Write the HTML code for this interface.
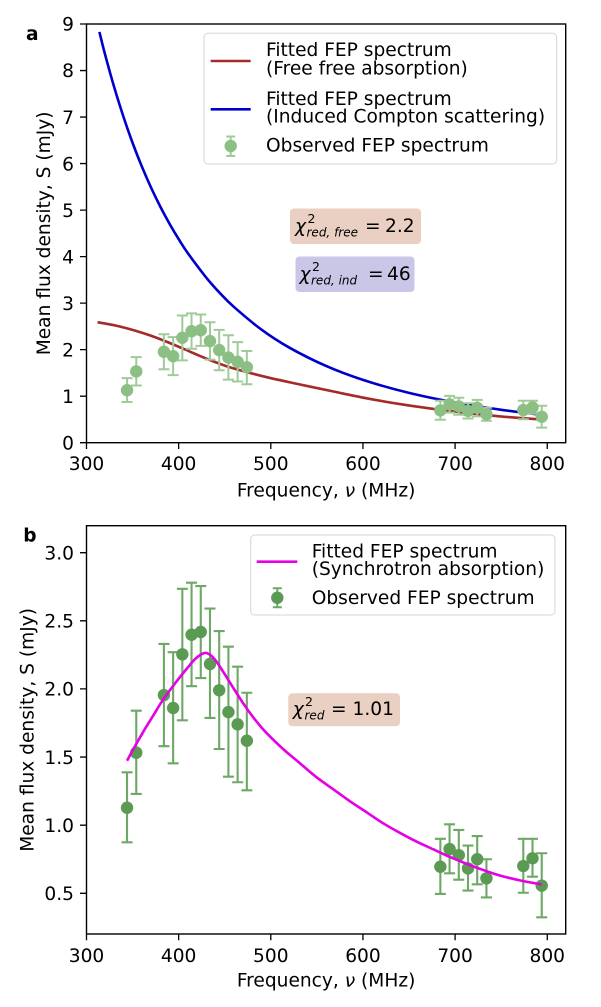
<!DOCTYPE html>
<html><head><meta charset="utf-8"><style>
html,body{margin:0;padding:0;background:#fff;}
svg{display:block;font-family:"DejaVu Sans","Liberation Sans",sans-serif;}
.t{font-size:18.6px;fill:#000;}
.it{font-style:italic;}
</style></head><body>
<svg id="fig" width="601" height="1007" viewBox="0 0 601 1007" xmlns="http://www.w3.org/2000/svg">
<rect width="601" height="1007" fill="#fff"/>

<!-- ================= PANEL A ================= -->
<text class="t" x="26" y="40" font-weight="bold">a</text>

<!-- curves -->
<polyline class="sm" fill="none" stroke="#0000cd" stroke-width="2.6" stroke-linejoin="round" points="99.40,31.93 104.93,53.9 114.15,87.05 123.37,116.5 132.58,142.88 141.79,166.4 151.0,187.49 160.22,206.5 169.44,223.59 178.65,239.1 187.87,253.22 206.30,277.65 220.12,293.3 233.94,306.95 261.59,329.7 289.23,347.57 326.09,365.99 362.95,379.9 409.03,392.92 455.1,402.53 501.18,409.81 541.72,414.81"/>
<polyline class="sm" fill="none" stroke="#a52a2a" stroke-width="2.6" stroke-linejoin="round" points="97.56,322.21 116,325.6 133.32,330.12 150,335.4 166.67,341.75 183,348.6 199.84,355.9 216,362.4 233.02,368.27 266.75,377.2 300.1,384.5 333.46,391.53 366.64,398.3 399.81,404.09 433.54,408.9 466.9,412.93 500.25,416.42 541.72,419.44"/>

<!-- error bars top -->
<g stroke="#a0cb98" stroke-width="2" fill="none">
<path d="M127.05,402.0V378.1M136.26,385.5V357.1M163.91,369.2V334.3M173.12,375.1V337.1M182.34,360.4V315.5M191.55,348.7V313.4M200.77,345.9V314.5M209.98,359.6V322.2M219.2,370.2V329.9M228.41,379.6V335.2M237.63,381.5V342.1M246.84,384.3V351.0M440.36,419.7V400.8M449.57,412.6V395.9M458.79,414.8V397.8M468.0,418.5V403.2M477.22,416.4V399.9M486.43,420.8V407.8M523.29,419.3V400.8M532.51,413.8V400.8M541.72,427.6V405.8"/>
<path d="M121.55,402.0h11M121.55,378.1h11M130.76,385.5h11M130.76,357.1h11M158.41,369.2h11M158.41,334.3h11M167.62,375.1h11M167.62,337.1h11M176.84,360.4h11M176.84,315.5h11M186.05,348.7h11M186.05,313.4h11M195.27,345.9h11M195.27,314.5h11M204.48,359.6h11M204.48,322.2h11M213.7,370.2h11M213.7,329.9h11M222.91,379.6h11M222.91,335.2h11M232.13,381.5h11M232.13,342.1h11M241.34,384.3h11M241.34,351.0h11M434.86,419.7h11M434.86,400.8h11M444.07,412.6h11M444.07,395.9h11M453.29,414.8h11M453.29,397.8h11M462.5,418.5h11M462.5,403.2h11M471.72,416.4h11M471.72,399.9h11M480.93,420.8h11M480.93,407.8h11M517.79,419.3h11M517.79,400.8h11M527.01,413.8h11M527.01,400.8h11M536.22,427.6h11M536.22,405.8h11"/>
</g>
<g fill="#8bbf83">
<circle cx="127.05" cy="390.2" r="6.2"/><circle cx="136.26" cy="371.4" r="6.2"/><circle cx="163.91" cy="351.8" r="6.2"/><circle cx="173.12" cy="356.2" r="6.2"/><circle cx="182.34" cy="337.8" r="6.2"/><circle cx="191.55" cy="331.2" r="6.2"/><circle cx="200.77" cy="330.2" r="6.2"/><circle cx="209.98" cy="341.1" r="6.2"/><circle cx="219.2" cy="350.1" r="6.2"/><circle cx="228.41" cy="357.6" r="6.2"/><circle cx="237.63" cy="361.8" r="6.2"/><circle cx="246.84" cy="367.3" r="6.2"/>
<circle cx="440.36" cy="410.4" r="6.2"/><circle cx="449.57" cy="404.3" r="6.2"/><circle cx="458.79" cy="406.4" r="6.2"/><circle cx="468.0" cy="410.9" r="6.2"/><circle cx="477.22" cy="407.8" r="6.2"/><circle cx="486.43" cy="414.3" r="6.2"/><circle cx="523.29" cy="410.1" r="6.2"/><circle cx="532.51" cy="407.5" r="6.2"/><circle cx="541.72" cy="416.8" r="6.2"/>
</g>

<!-- axes box top -->
<rect x="86.5" y="24" width="479.2" height="418.7" fill="none" stroke="#000" stroke-width="1.4"/>
<g stroke="#000" stroke-width="1.3">
<path d="M86.5,442.7v6.3M178.65,442.7v6.3M270.8,442.7v6.3M362.95,442.7v6.3M455.1,442.7v6.3M547.25,442.7v6.3"/>
<path d="M80,442.7h6.5M80,396.18h6.5M80,349.66h6.5M80,303.14h6.5M80,256.62h6.5M80,210.1h6.5M80,163.58h6.5M80,117.06h6.5M80,70.54h6.5M80,24.02h6.5"/>
</g>
<g text-anchor="middle">
<text class="t" x="86.5" y="470">300</text><text class="t" x="178.65" y="470">400</text><text class="t" x="270.8" y="470">500</text><text class="t" x="362.95" y="470">600</text><text class="t" x="455.1" y="470">700</text><text class="t" x="547.25" y="470">800</text>
</g>
<g text-anchor="end">
<text class="t" x="74" y="449.4">0</text><text class="t" x="74" y="402.9">1</text><text class="t" x="74" y="356.4">2</text><text class="t" x="74" y="309.8">3</text><text class="t" x="74" y="263.3">4</text><text class="t" x="74" y="216.8">5</text><text class="t" x="74" y="170.3">6</text><text class="t" x="74" y="123.8">7</text><text class="t" x="74" y="77.2">8</text><text class="t" x="74" y="30.7">9</text>
</g>
<text class="t" x="326.1" y="496.5" text-anchor="middle">Frequency, <tspan class="it">ν</tspan> (MHz)</text>
<text class="t" text-anchor="middle" transform="translate(50,233.4) rotate(-90)">Mean flux density, S (mJy)</text>

<!-- legend top -->
<rect x="204" y="33.3" width="352.7" height="130.7" rx="4" fill="#fff" fill-opacity="0.85" stroke="#d6d6d6" stroke-width="1"/>
<line x1="210.7" y1="61" x2="250.7" y2="61" stroke="#a52a2a" stroke-width="2.6"/>
<line x1="210.7" y1="109.3" x2="250.7" y2="109.3" stroke="#0000cd" stroke-width="2.6"/>
<path d="M230.7,136.5V156M226.2,136.5h9M226.2,156h9" stroke="#a0cb98" stroke-width="2" fill="none"/>
<circle cx="230.7" cy="146" r="6.2" fill="#8bbf83"/>
<text class="t" x="266" y="56">Fitted FEP spectrum</text>
<text class="t" x="266" y="74.3">(Free free absorption)</text>
<text class="t" x="266" y="105">Fitted FEP spectrum</text>
<text class="t" x="266" y="122.5">(Induced Compton scattering)</text>
<text class="t" x="266" y="151.5">Observed FEP spectrum</text>

<!-- chi boxes top -->
<rect x="290" y="208.5" width="131" height="35.5" rx="4" fill="#e9d0c2"/>
<text class="t it" x="295" y="231.8">χ</text>
<text x="307.5" y="222.8" font-size="12.5px">2</text>
<text class="it" x="306.5" y="236.3" font-size="12px">red, free</text>
<text class="t" x="365" y="231.8">=</text>
<text class="t" x="385" y="231.8">2.2</text>

<rect x="295.5" y="256.5" width="119" height="35.5" rx="4" fill="#cac6e8"/>
<text class="t it" x="299.5" y="279.8">χ</text>
<text x="312" y="270.8" font-size="12.5px">2</text>
<text class="it" x="311" y="284.3" font-size="12px">red, ind</text>
<text class="t" x="368" y="279.8">=</text>
<text class="t" x="387" y="279.8">46</text>

<!-- ================= PANEL B ================= -->
<text class="t" x="23.3" y="541.7" font-weight="bold">b</text>

<g stroke="#6ea866" stroke-width="2.1" fill="none">
<path d="M127.05,842.34V772.31M136.26,793.97V710.73M163.91,746.15V643.96M173.12,763.32V652.14M182.34,720.27V588.79M191.55,686.2V582.65M200.77,678.03V586.06M209.98,717.95V608.54M219.2,749.01V631.02M228.41,776.67V646.69M237.63,782.26V666.72M246.84,790.3V692.74M440.36,893.98V838.8M449.57,873.27V824.36M458.79,879.68V829.94M468.0,890.58V845.61M477.22,884.31V836.08M486.43,897.39V859.24M523.29,892.76V838.8M532.51,876.68V838.8M541.72,917.28V853.25"/>
<path d="M121.55,842.34h11M121.55,772.31h11M130.76,793.97h11M130.76,710.73h11M158.41,746.15h11M158.41,643.96h11M167.62,763.32h11M167.62,652.14h11M176.84,720.27h11M176.84,588.79h11M186.05,686.2h11M186.05,582.65h11M195.27,678.03h11M195.27,586.06h11M204.48,717.95h11M204.48,608.54h11M213.7,749.01h11M213.7,631.02h11M222.91,776.67h11M222.91,646.69h11M232.13,782.26h11M232.13,666.72h11M241.34,790.3h11M241.34,692.74h11M434.86,893.98h11M434.86,838.8h11M444.07,873.27h11M444.07,824.36h11M453.29,879.68h11M453.29,829.94h11M462.5,890.58h11M462.5,845.61h11M471.72,884.31h11M471.72,836.08h11M480.93,897.39h11M480.93,859.24h11M517.79,892.76h11M517.79,838.8h11M527.01,876.68h11M527.01,838.8h11M536.22,917.28h11M536.22,853.25h11"/>
</g>
<g fill="#5a9a53">
<circle cx="127.05" cy="807.74" r="6.2"/><circle cx="136.26" cy="752.69" r="6.2"/><circle cx="163.91" cy="695.06" r="6.2"/><circle cx="173.12" cy="708.0" r="6.2"/><circle cx="182.34" cy="654.31" r="6.2"/><circle cx="191.55" cy="634.7" r="6.2"/><circle cx="200.77" cy="631.97" r="6.2"/><circle cx="209.98" cy="664.0" r="6.2"/><circle cx="219.2" cy="690.29" r="6.2"/><circle cx="228.41" cy="712.09" r="6.2"/><circle cx="237.63" cy="724.35" r="6.2"/><circle cx="246.84" cy="740.7" r="6.2"/>
<circle cx="440.36" cy="866.73" r="6.2"/><circle cx="449.57" cy="849.02" r="6.2"/><circle cx="458.79" cy="855.15" r="6.2"/><circle cx="468.0" cy="868.37" r="6.2"/><circle cx="477.22" cy="859.24" r="6.2"/><circle cx="486.43" cy="878.31" r="6.2"/><circle cx="523.29" cy="866.05" r="6.2"/><circle cx="532.51" cy="858.29" r="6.2"/><circle cx="541.72" cy="885.67" r="6.2"/>
</g>

<polyline class="sm" fill="none" stroke="#e600e6" stroke-width="2.6" stroke-linejoin="round" points="127.05,760.73 133.5,748.88 143.63,731.16 152.85,716.18 162.98,699.83 174.96,683.48 186.94,668.49 195.24,658.95 203.53,653.23 209.06,654.18 215.51,660.31 222.88,671.24 233.94,688.93 243.16,703.23 252.37,716.18 261.6,727.6 270.8,737.3 284.6,750.4 298.45,762.0 316,776.8 333.46,789.4 350,801.3 366.64,812.3 383,823.2 399.81,832.8 417,841.8 433.91,849.6 450.5,857.2 467.08,864.0 483.7,870.2 500.25,875.6 521,880.6 541.72,884.44"/>

<rect x="86.5" y="525.7" width="479.2" height="408.3" fill="none" stroke="#000" stroke-width="1.4"/>
<g stroke="#000" stroke-width="1.3">
<path d="M86.5,934v6.3M178.65,934v6.3M270.8,934v6.3M362.95,934v6.3M455.1,934v6.3M547.25,934v6.3"/>
<path d="M80,893.3h6.5M80,825.2h6.5M80,757.05h6.5M80,688.9h6.5M80,620.8h6.5M80,552.7h6.5"/>
</g>
<g text-anchor="middle">
<text class="t" x="86.5" y="962">300</text><text class="t" x="178.65" y="962">400</text><text class="t" x="270.8" y="962">500</text><text class="t" x="362.95" y="962">600</text><text class="t" x="455.1" y="962">700</text><text class="t" x="547.25" y="962">800</text>
</g>
<g text-anchor="end">
<text class="t" x="74" y="900">0.5</text><text class="t" x="74" y="831.9">1.0</text><text class="t" x="74" y="763.8">1.5</text><text class="t" x="74" y="695.6">2.0</text><text class="t" x="74" y="627.5">2.5</text><text class="t" x="74" y="559.4">3.0</text>
</g>
<text class="t" x="326.1" y="986.5" text-anchor="middle">Frequency, <tspan class="it">ν</tspan> (MHz)</text>
<text class="t" text-anchor="middle" transform="translate(33.3,729.9) rotate(-90)">Mean flux density, S (mJy)</text>

<!-- legend bottom -->
<rect x="250.7" y="535" width="304.3" height="80" rx="4" fill="#fff" fill-opacity="0.85" stroke="#d6d6d6" stroke-width="1"/>
<line x1="256.7" y1="561.7" x2="297.3" y2="561.7" stroke="#e600e6" stroke-width="2.6"/>
<path d="M277.3,588.3V607.3M272.8,588.3h9M272.8,607.3h9" stroke="#6ea866" stroke-width="2" fill="none"/>
<circle cx="277.3" cy="597.7" r="6.2" fill="#5a9a53"/>
<text class="t" x="311.7" y="557.3">Fitted FEP spectrum</text>
<text class="t" x="311.7" y="575">(Synchrotron absorption)</text>
<text class="t" x="311.7" y="603.8">Observed FEP spectrum</text>

<!-- chi box bottom -->
<rect x="288.3" y="693.3" width="111.7" height="33" rx="4" fill="#e9d0c2"/>
<text class="t it" x="292.7" y="715">χ</text>
<text x="305" y="706" font-size="12.5px">2</text>
<text class="it" x="304.5" y="719.5" font-size="12px">red</text>
<text class="t" x="331" y="715">=</text>
<text class="t" x="352.5" y="715">1.01</text>
</svg>
<script>
(function(){
  var ns="http://www.w3.org/2000/svg";
  var pls=document.querySelectorAll('polyline.sm');
  for(var k=0;k<pls.length;k++){
    var pl=pls[k];
    var pts=pl.getAttribute('points').trim().split(/\s+/).map(function(s){return s.split(',').map(Number);});
    var d='M'+pts[0][0]+','+pts[0][1];
    for(var i=0;i<pts.length-1;i++){
      var p0=pts[i-1]||pts[i],p1=pts[i],p2=pts[i+1],p3=pts[i+2]||pts[i+1];
      var c1x=p1[0]+(p2[0]-p0[0])/6,c1y=p1[1]+(p2[1]-p0[1])/6;
      var c2x=p2[0]-(p3[0]-p1[0])/6,c2y=p2[1]-(p3[1]-p1[1])/6;
      d+='C'+c1x.toFixed(2)+','+c1y.toFixed(2)+' '+c2x.toFixed(2)+','+c2y.toFixed(2)+' '+p2[0]+','+p2[1];
    }
    var p=document.createElementNS(ns,'path');
    p.setAttribute('d',d);
    p.setAttribute('fill','none');
    p.setAttribute('stroke',pl.getAttribute('stroke'));
    p.setAttribute('stroke-width',pl.getAttribute('stroke-width'));
    p.setAttribute('stroke-linejoin','round');
    pl.parentNode.replaceChild(p,pl);
  }
})();
</script>
</body></html>
